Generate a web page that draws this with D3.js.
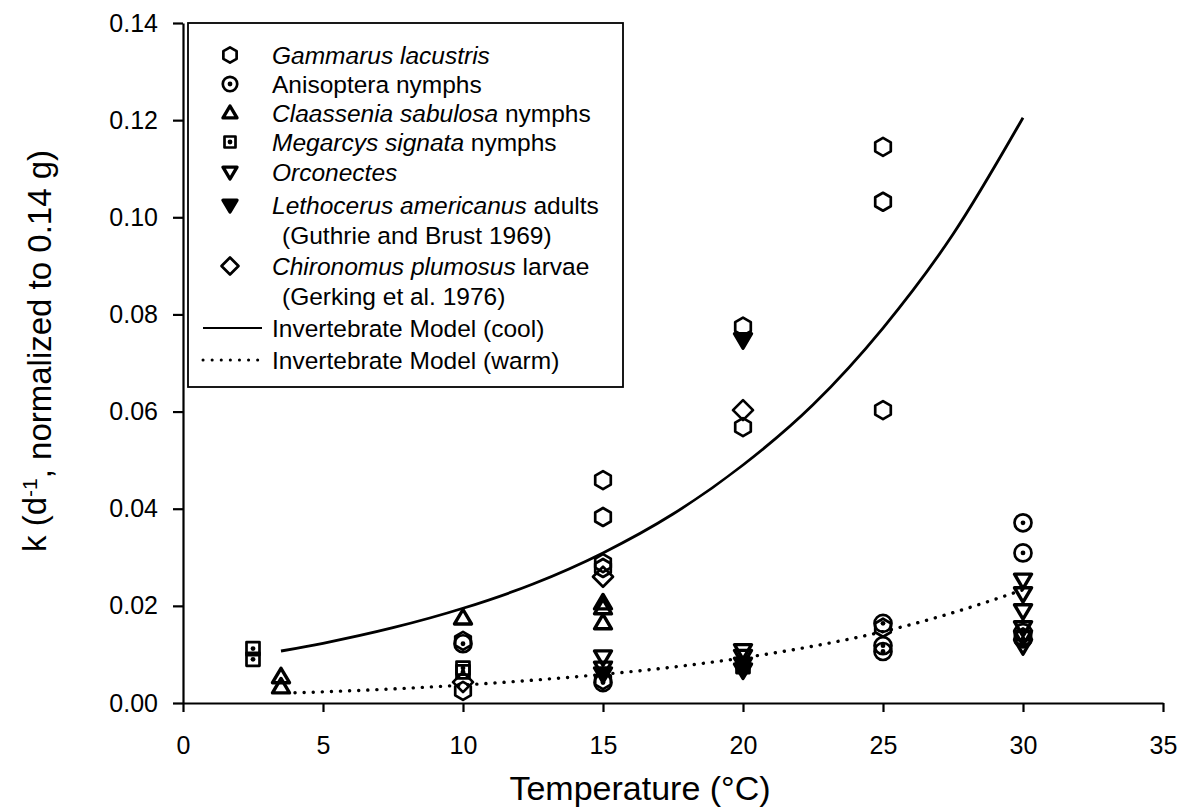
<!DOCTYPE html>
<html>
<head>
<meta charset="utf-8">
<script src="https://cdn.jsdelivr.net/npm/d3@7"></script>
<style>
  body { margin: 0; background: #fff; }
  svg { display: block; font-family: "Liberation Sans", Arial, sans-serif; }
  .axis text { font-size: 25px; fill: #000; }
  .axis path, .axis line { stroke: #000; stroke-width: 2.2; }
  .legend text { font-size: 24.5px; }
  .title { font-family: "Liberation Sans", Arial, sans-serif; }
</style>
</head>
<body>
<div id="chart"></div>
<script>
// values: [temperature (°C), k (1/d)]
const gammarus = [[10, 0.0128], [10, 0.0025], [15, 0.0459], [15, 0.0383], [15, 0.0288], [15, 0.0278],
  [15, 0.0047], [20, 0.0775], [20, 0.0568], [25, 0.1145], [25, 0.1032], [25, 0.0603], [25, 0.0155], [30, 0.0135]];
const anisoptera = [[10, 0.0122], [15, 0.0042], [25, 0.0164], [25, 0.0118], [25, 0.0106],
  [30, 0.0371], [30, 0.0309], [30, 0.0145], [30, 0.0132]];
const claassenia = [[3.5, 0.0054], [3.5, 0.0033], [10, 0.0175], [15, 0.0206], [15, 0.0196], [15, 0.0165]];
const megarcys = [[2.5, 0.0112], [2.5, 0.0090], [10, 0.0072], [10, 0.0064], [20, 0.0075]];
const orconectes = [[15, 0.0095], [15, 0.0072], [20, 0.0108], [20, 0.0096],
  [30, 0.0253], [30, 0.0225], [30, 0.0190], [30, 0.0155], [30, 0.0136], [30, 0.0118]];
const lethocerus = [[20, 0.0748], [20, 0.0080], [20, 0.0068], [15, 0.0060]];
const chironomus = [[10, 0.0043], [15, 0.0260], [20, 0.0603]];

// model curves
const coolModel = [[3.5, 0.0107], [5, 0.0123], [7.5, 0.0155], [10, 0.0195], [12.5, 0.0245], [15, 0.0309],
  [17.5, 0.0389], [20, 0.0490], [22.5, 0.0614], [25, 0.0772], [27.5, 0.0965], [30, 0.1205]];
const warmModel = [[4, 0.0021], [5, 0.0023], [7.5, 0.0029], [10, 0.0037], [12.5, 0.0047], [15, 0.0059],
  [17.5, 0.0074], [20, 0.0093], [22.5, 0.0117], [25, 0.0147], [27.5, 0.0186], [30, 0.0233]];

const xTicks = [0, 5, 10, 15, 20, 25, 30, 35];
const yTicks = [0, 0.02, 0.04, 0.06, 0.08, 0.10, 0.12, 0.14];

const width = 1180, height = 811;
const svg = d3.select('#chart').append('svg')
  .attr('width', width).attr('height', height);

const x = d3.scaleLinear().domain([0, 35]).range([183, 1163]);
const y = d3.scaleLinear().domain([0, 0.14]).range([703, 23]);

// axes
svg.append('g').attr('class', 'axis')
  .attr('transform', 'translate(0,' + y(0) + ')')
  .call(d3.axisBottom(x).tickValues(xTicks).tickFormat(d3.format('d')).tickSize(9).tickSizeOuter(0).tickPadding(24));
svg.append('g').attr('class', 'axis')
  .attr('transform', 'translate(' + x(0) + ',0)')
  .call(d3.axisLeft(y).tickValues(yTicks).tickFormat(d3.format('.2f')).tickSize(10).tickSizeOuter(0).tickPadding(15));

// symbol shapes
function poly(pts) { return 'M' + pts.map(p => p[0].toFixed(2) + ',' + p[1].toFixed(2)).join('L') + 'Z'; }
const shapes = {
  hex: r => poly(d3.range(6).map(i => { const a = (-90 + 60 * i) * Math.PI / 180; return [r * Math.cos(a), r * Math.sin(a)]; })),
  circle: r => d3.symbol(d3.symbolCircle, Math.PI * r * r)(),
  triUp: r => poly([[0, -r], [r, r * 0.7], [-r, r * 0.7]]),
  triDown: r => poly([[0, r], [r, -r * 0.7], [-r, -r * 0.7]]),
  square: r => poly([[-r, -r], [r, -r], [r, r], [-r, r]]),
  diamond: r => poly([[0, -r], [r, 0], [0, r], [-r, 0]])
};
const series = [
  { data: gammarus, shape: 'hex', r: 9, fill: 'none', dot: false },
  { data: anisoptera, shape: 'circle', r: 8.5, fill: 'none', dot: true },
  { data: claassenia, shape: 'triUp', r: 8.5, fill: 'none', dot: false },
  { data: megarcys, shape: 'square', r: 6.5, fill: 'none', dot: true },
  { data: orconectes, shape: 'triDown', r: 8.5, fill: 'none', dot: false },
  { data: lethocerus, shape: 'triDown', r: 8.5, fill: '#000', dot: false },
  { data: chironomus, shape: 'diamond', r: 10, fill: 'none', dot: false }
];

function drawSymbol(g, s) {
  g.append('path').attr('d', shapes[s.shape](s.r))
    .attr('fill', s.fill).attr('stroke', '#000').attr('stroke-width', s.shape.startsWith('tri') ? 3.4 : 2.7)
    .attr('stroke-linejoin', 'round');
  if (s.dot) g.append('circle').attr('r', 2.4).attr('fill', '#000');
}

// model lines
const line = d3.line().x(d => x(d[0])).y(d => y(d[1])).curve(d3.curveMonotoneX);
svg.append('path').datum(coolModel).attr('d', line)
  .attr('fill', 'none').attr('stroke', '#000').attr('stroke-width', 2.8);
svg.append('path').datum(warmModel).attr('d', line)
  .attr('fill', 'none').attr('stroke', '#000').attr('stroke-width', 3.4)
  .attr('stroke-dasharray', '0.1,9').attr('stroke-linecap', 'round');

// points
series.forEach(s => {
  svg.append('g').selectAll('g').data(s.data).join('g')
    .attr('transform', d => 'translate(' + x(d[0]) + ',' + y(d[1]) + ')')
    .each(function () { drawSymbol(d3.select(this), s); });
});

// legend
const legend = svg.append('g').attr('class', 'legend');
legend.append('rect').attr('x', 188).attr('y', 23).attr('width', 435).attr('height', 364)
  .attr('fill', 'none').attr('stroke', '#000').attr('stroke-width', 1.8);
const legendRows = [
  { y: 55, sym: 0, parts: [['Gammarus lacustris', true]] },
  { y: 84, sym: 1, parts: [['Anisoptera nymphs', false]] },
  { y: 113, sym: 2, parts: [['Claassenia sabulosa', true], [' nymphs', false]] },
  { y: 142, sym: 3, parts: [['Megarcys signata', true], [' nymphs', false]] },
  { y: 172, sym: 4, parts: [['Orconectes', true]] },
  { y: 205, sym: 5, parts: [['Lethocerus americanus', true], [' adults', false]] },
  { y: 235, indent: true, parts: [['(Guthrie and Brust 1969)', false]] },
  { y: 266, sym: 6, parts: [['Chironomus plumosus', true], [' larvae', false]] },
  { y: 296, indent: true, parts: [['(Gerking et al. 1976)', false]] },
  { y: 328, line: 'solid', parts: [['Invertebrate Model (cool)', false]] },
  { y: 360, line: 'dot', parts: [['Invertebrate Model (warm)', false]] }
];
legendRows.forEach(row => {
  if (row.sym !== undefined) {
    const s = Object.assign({}, series[row.sym]);
    if (s.shape === 'hex' || s.shape === 'circle' || s.shape === 'diamond') s.r = s.r * 0.85;
    if (s.shape.startsWith('tri')) s.r = 7;
    if (s.shape === 'square') s.r = 5.5;
    drawSymbol(legend.append('g').attr('transform', 'translate(230,' + row.y + ')'), s);
  }
  if (row.line) {
    legend.append('line').attr('x1', 203).attr('x2', 262).attr('y1', row.y).attr('y2', row.y)
      .attr('stroke', '#000').attr('stroke-width', row.line === 'dot' ? 3 : 2.2)
      .attr('stroke-dasharray', row.line === 'dot' ? '0.1,9' : null)
      .attr('stroke-linecap', row.line === 'dot' ? 'round' : 'butt');
  }
  const t = legend.append('text').attr('x', row.indent ? 282 : 272).attr('y', row.y).attr('dy', '0.36em');
  row.parts.forEach(p => t.append('tspan').attr('font-style', p[1] ? 'italic' : 'normal').text(p[0]));
});

// axis titles
svg.append('text').attr('class', 'title').attr('font-size', '34px').attr('x', 640).attr('y', 800)
  .attr('text-anchor', 'middle').text('Temperature (°C)');
const yt = svg.append('text').attr('class', 'title').attr('font-size', '33px').attr('text-anchor', 'middle')
  .attr('transform', 'translate(46,351) rotate(-90)');
yt.append('tspan').text('k (d');
yt.append('tspan').attr('dy', '-0.45em').attr('font-size', '21px').text('-1');
yt.append('tspan').attr('dy', '0.45em').text(', normalized to 0.14 g)');
</script>
</body>
</html>
